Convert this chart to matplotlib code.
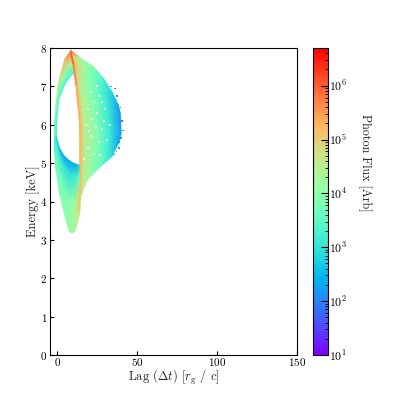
import numpy as np
import matplotlib
matplotlib.use('Agg')
import matplotlib.pyplot as plt
from matplotlib.colors import LogNorm
from matplotlib.collections import LineCollection

plt.rcParams['font.family'] = ['cmr10', 'DejaVu Serif']
plt.rcParams['mathtext.fontset'] = 'cm'
plt.rcParams['axes.formatter.use_mathtext'] = True
plt.rcParams['axes.unicode_minus'] = False

# right lobe: ridge -> near ridge -> middle -> outer part -> outer edge
right_lag = [[8.5, 8.5, 8.5, 8.5, 8.5],
             [8.5, 9.5, 11, 12.5, 14.4],
             [10.2, 12, 15.5, 19, 22.7],
             [11.2, 13, 18, 23, 28.9],
             [11.9, 14, 20, 27, 34.2],
             [13.3, 16, 23, 31, 38.3],
             [14, 16.5, 24, 32, 39.4],
             [14.4, 17, 25, 33, 40],
             [14.4, 17, 24.5, 32, 38.3],
             [14.4, 17, 23, 29, 34.2],
             [14.4, 16.5, 20, 23.5, 26.9],
             [14.5, 16, 18, 20, 21.7],
             [14.7, 15.5, 16.5, 17.5, 18.6],
             [14.8, 14.85, 14.9, 14.95, 15]]
right_energy = [[7.93, 7.93, 7.93, 7.93, 7.93],
                [7.81, 7.8, 7.78, 7.76, 7.74],
                [7.55, 7.55, 7.54, 7.52, 7.51],
                [7.27, 7.27, 7.26, 7.24, 7.21],
                [7.03, 7.0, 6.95, 6.9, 6.86],
                [6.43, 6.45, 6.47, 6.5, 6.51],
                [6.15, 6.17, 6.2, 6.25, 6.3],
                [5.78, 5.78, 5.78, 5.78, 5.78],
                [5.47, 5.48, 5.5, 5.5, 5.52],
                [5.17, 5.17, 5.17, 5.17, 5.17],
                [4.95, 4.94, 4.93, 4.92, 4.91],
                [4.75, 4.73, 4.71, 4.7, 4.69],
                [4.6, 4.58, 4.57, 4.56, 4.56],
                [4.17, 4.17, 4.17, 4.17, 4.17]]
right_flux = [[6.0, 6.0, 6.0, 6.0, 6.0],
              [5.7, 5.2, 4.7, 4.4, 4.2],
              [5.5, 4.9, 4.4, 4.1, 3.9],
              [5.4, 4.7, 4.1, 3.7, 3.3],
              [5.3, 4.5, 4.0, 3.4, 2.8],
              [5.2, 4.5, 3.9, 3.2, 2.3],
              [5.2, 4.5, 3.9, 3.1, 2.2],
              [5.2, 4.5, 3.9, 3.1, 2.2],
              [5.2, 4.5, 3.9, 3.2, 2.3],
              [5.2, 4.5, 4.0, 3.5, 2.9],
              [5.2, 4.6, 4.2, 3.9, 3.6],
              [5.1, 4.7, 4.4, 4.2, 4.0],
              [5.0, 4.8, 4.5, 4.4, 4.3],
              [4.9, 4.8, 4.7, 4.6, 4.5]]

# left arc: hole edge -> middle -> outer edge
left_lag = [[11.2, 10, 8.5], [10.2, 9, 7.5], [7.5, 6.2, 5], [5, 3.5, 1.9], [2.8, 1.5, 0.4],
            [0.8, 0, -0.8], [-0.3, -0.9, -1.5], [-0.6, -1.1, -1.7]]
left_energy = [[7.27, 7.6, 7.93], [7.34, 7.6, 7.86], [7.22, 7.5, 7.73], [7.08, 7.18, 7.29], [6.85, 6.92, 6.97],
               [6.64, 6.58, 6.51], [6.1, 6.1, 6.1], [5.69, 5.65, 5.6]]
left_flux = [[3.4, 4.6, 6.0], [3.3, 4.5, 5.7], [3.3, 4.3, 5.4], [3.3, 4.0, 4.9], [3.3, 3.8, 4.5],
             [3.3, 3.6, 4.1], [3.3, 3.5, 3.8], [3.2, 3.4, 3.6]]

# bottom lobe: hole edge -> just below it -> middle -> lower edge
bottom_lag = [[-1.7, -1.7, -1.7, -1.7], [-0.6, -0.6, -0.6, -0.6], [1.5, 1.5, 1.5, 1.5], [4, 4, 4, 4],
              [6.5, 6.5, 6.5, 6.5], [7.8, 7.8, 7.8, 7.8], [9.2, 9.2, 9.2, 9.2], [10.6, 10.6, 10.6, 10.6],
              [11.9, 11.9, 11.9, 11.9], [14, 14, 14, 14], [14.7, 14.7, 14.7, 14.7]]
bottom_energy = [[5.6, 5.55, 5.45, 5.34], [5.69, 5.5, 5.2, 4.82], [5.38, 5.15, 4.7, 4.2], [5.2, 4.9, 4.3, 3.78],
                 [5.1, 4.8, 4.1, 3.36], [5.06, 4.75, 4.05, 3.22], [5.02, 4.7, 4.0, 3.18], [4.99, 4.67, 4.0, 3.21],
                 [4.97, 4.65, 4.0, 3.32], [4.95, 4.65, 4.2, 3.7], [4.95, 4.7, 4.4, 4.17]]
bottom_flux = [[3.2, 3.3, 3.4, 3.5], [2.9, 3.2, 3.5, 3.7], [2.5, 3.2, 3.7, 3.9], [2.3, 3.1, 3.8, 4.0],
               [2.3, 3.0, 3.9, 4.1], [2.3, 3.0, 4.0, 4.1], [2.3, 3.0, 4.1, 4.2], [2.35, 3.1, 4.2, 4.3],
               [2.4, 3.2, 4.4, 4.4], [2.7, 3.6, 4.9, 4.7], [3.2, 4.4, 5.0, 4.9]]

# bright caustic running down the inner side of the right lobe
ridge_lag = [8.5, 10.2, 11.9, 13.3, 14, 14.4, 14.4, 14.8, 14.4, 13.3, 12.3]
ridge_energy = [7.88, 7.55, 7.03, 6.43, 6.15, 5.47, 4.95, 4.6, 4.2, 3.95, 3.7]
ridge_flux = [6.0, 5.7, 5.4, 5.3, 5.25, 5.2, 5.2, 5.15, 5.0, 4.8, 4.6]

# gaps in the sampling inside the right lobe
gap_lag = [17, 19, 21, 23, 26, 28, 18, 22, 25, 27, 20, 24, 29, 19, 23, 26, 30, 21, 25, 28, 31, 33]
gap_energy = [5.1, 5.4, 5.7, 5.25, 5.55, 5.9, 6.0, 6.15, 6.3, 5.2, 5.85, 5.95, 6.1, 6.4, 6.6, 6.75, 6.4, 6.85, 7.0, 6.6, 5.6, 6.0]

# scattered low flux pixels round the right edge
edge_lag = [39.5, 40.5, 39, 41, 40, 38.5, 37.5, 36, 38.8, 37, 35.5, 33.5]
edge_energy = [6.45, 6.1, 6.25, 5.85, 5.65, 5.55, 6.75, 6.95, 5.4, 5.3, 5.22, 7.0]
edge_flux = [2.1, 2.0, 2.2, 2.0, 2.1, 2.2, 2.2, 2.3, 2.2, 2.3, 2.4, 2.5]

x_ticks = [0, 50, 100, 150]
y_ticks = [0, 1, 2, 3, 4, 5, 6, 7, 8]

fig = plt.figure(figsize=(3.99, 3.99), dpi=100)
ax = fig.add_axes([50 / 399, 1 - 355 / 399, 247 / 399, 307 / 399])
cax = fig.add_axes([313 / 399, 1 - 355 / 399, 15 / 399, 307 / 399])

norm = LogNorm(vmin=1e1, vmax=5e6)

for lag, energy, flux in [(right_lag, right_energy, right_flux),
                          (left_lag, left_energy, left_flux),
                          (bottom_lag, bottom_energy, bottom_flux)]:
    mesh = ax.pcolormesh(np.array(lag), np.array(energy), 10 ** np.array(flux),
                         shading='gouraud', cmap='rainbow', norm=norm)

ax.scatter(gap_lag, gap_energy, s=0.7, c='white', alpha=0.8, marker='s', linewidths=0)
ax.scatter(edge_lag, edge_energy, s=1.2, c=10 ** np.array(edge_flux), cmap='rainbow', norm=norm,
           marker='s', linewidths=0)

pts = np.column_stack([ridge_lag, ridge_energy]).reshape(-1, 1, 2)
segs = np.concatenate([pts[:-1], pts[1:]], axis=1)
lc = LineCollection(segs, cmap='rainbow', norm=norm, linewidths=1.2)
lc.set_array(10 ** np.array(ridge_flux[:-1]))
ax.add_collection(lc)

ax.set_xlim(-4.5, 150)
ax.set_ylim(0, 8)
ax.set_xticks(x_ticks)
ax.set_yticks(y_ticks)
ax.tick_params(direction='in', length=3, width=0.8, labelsize=8)
ax.tick_params(axis='x', pad=1)
ax.tick_params(axis='y', pad=2)
ax.set_xlabel(r'Lag ($\Delta t$) [$r_{\rm g}$ / $c$]', fontsize=9, labelpad=0, color='#222222')
ax.set_ylabel('Energy [keV]', fontsize=9, labelpad=0, color='#222222')

cb = fig.colorbar(mesh, cax=cax)
cb.ax.tick_params(which='major', direction='in', length=5, width=0.8, labelsize=8.5, pad=1)
cb.ax.tick_params(which='minor', direction='in', length=2.5, width=0.6)
cb.set_label('Photon Flux [Arb]', rotation=270, fontsize=8.7, labelpad=17, y=0.625, color='#222222')

fig.savefig('out.png', dpi=100)
